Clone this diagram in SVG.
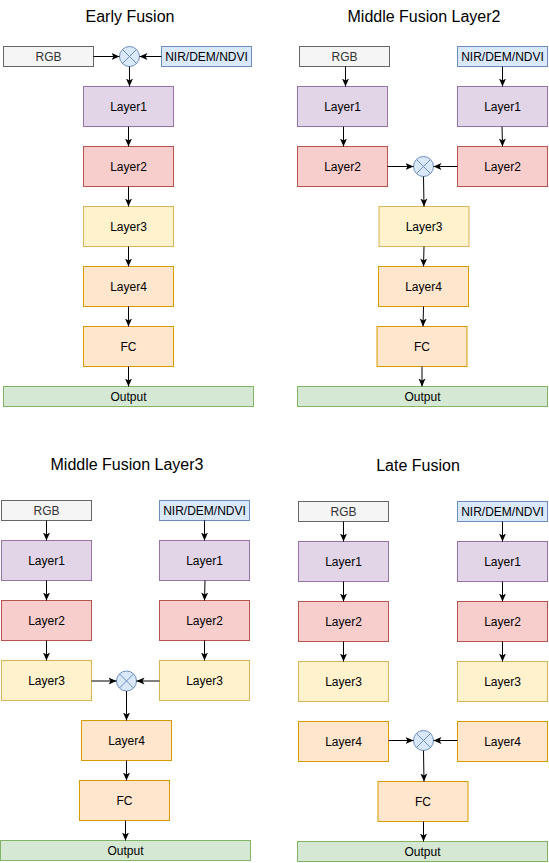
<svg xmlns="http://www.w3.org/2000/svg" width="549" height="863" viewBox="0 0 549 863">
<style>
text{font-family:"Liberation Sans",Arial,sans-serif;text-anchor:middle;dominant-baseline:central;font-size:12px;fill:#000}
.title{font-size:16px;dominant-baseline:auto}
.gray{fill:#f5f5f5;stroke:#666666}
.gray+text,.gt{fill:#333333}
.blue{fill:#dae8fc;stroke:#6c8ebf}
.purple{fill:#e1d5e7;stroke:#9673a6}
.red{fill:#f8cecc;stroke:#b85450}
.yellow{fill:#fff2cc;stroke:#d6b656}
.orange{fill:#ffe6cc;stroke:#d79b00}
.green{fill:#d5e8d4;stroke:#82b366}
.op circle{fill:#dae8fc;stroke:#6c8ebf}
.op path{stroke:#6c8ebf;fill:none}
#connectors line{stroke:#000;stroke-width:1;marker-end:url(#arr)}
</style>
<defs>
<marker id="arr" markerUnits="userSpaceOnUse" markerWidth="10" markerHeight="10" viewBox="0 0 10 10" refX="8" refY="5" orient="auto">
<path d="M0,1.5 L8,5 L0,8.5 L2,5 z" fill="#000"/>
</marker>
</defs>
<rect width="549" height="863" fill="#fff"/>

<text class="title" x="130" y="22">Early Fusion</text>
<text class="title" x="424" y="22">Middle Fusion Layer2</text>
<text class="title" x="127" y="470">Middle Fusion Layer3</text>
<text class="title" x="418" y="471">Late Fusion</text>

<!-- Panel 1: Early Fusion -->
<g id="ef-rgb"><rect class="gray" x="3.5" y="46.5" width="90" height="20"/><text class="gt" x="48.5" y="56.5">RGB</text></g>
<g id="ef-nir"><rect class="blue" x="161.5" y="46.5" width="90" height="20"/><text x="206.5" y="56.5">NIR/DEM/NDVI</text></g>
<g id="ef-fuse" class="op"><circle cx="129.5" cy="56.5" r="10"/><path d="M122.4,49.4 L136.6,63.6 M136.6,49.4 L122.4,63.6"/></g>
<g id="ef-l1"><rect class="purple" x="83.5" y="86.5" width="90" height="40"/><text x="128.5" y="106.5">Layer1</text></g>
<g id="ef-l2"><rect class="red" x="83.5" y="146.5" width="90" height="40"/><text x="128.5" y="166.5">Layer2</text></g>
<g id="ef-l3"><rect class="yellow" x="83.5" y="206.5" width="90" height="40"/><text x="128.5" y="226.5">Layer3</text></g>
<g id="ef-l4"><rect class="orange" x="83.5" y="266.5" width="90" height="40"/><text x="128.5" y="286.5">Layer4</text></g>
<g id="ef-fc"><rect class="orange" x="83.5" y="326.5" width="90" height="40"/><text x="128.5" y="346.5">FC</text></g>
<g id="ef-out"><rect class="green" x="3.5" y="386.5" width="250" height="20"/><text x="128.5" y="396.5">Output</text></g>

<!-- Panel 2: Middle Fusion Layer2 -->
<g id="m2-rgb"><rect class="gray" x="299.5" y="46.5" width="90" height="20"/><text class="gt" x="344.5" y="56.5">RGB</text></g>
<g id="m2-nir"><rect class="blue" x="457.5" y="46.5" width="90" height="20"/><text x="502.5" y="56.5">NIR/DEM/NDVI</text></g>
<g id="m2-l1a"><rect class="purple" x="297.5" y="86.5" width="90" height="40"/><text x="342.5" y="106.5">Layer1</text></g>
<g id="m2-l1b"><rect class="purple" x="457.5" y="86.5" width="90" height="40"/><text x="502.5" y="106.5">Layer1</text></g>
<g id="m2-l2a"><rect class="red" x="297.5" y="146.5" width="90" height="40"/><text x="342.5" y="166.5">Layer2</text></g>
<g id="m2-l2b"><rect class="red" x="457.5" y="146.5" width="90" height="40"/><text x="502.5" y="166.5">Layer2</text></g>
<g id="m2-fuse" class="op"><circle cx="423.5" cy="166.5" r="10"/><path d="M416.4,159.4 L430.6,173.6 M430.6,159.4 L416.4,173.6"/></g>
<g id="m2-l3"><rect class="yellow" x="379" y="206.5" width="90" height="40"/><text x="424" y="226.5">Layer3</text></g>
<g id="m2-l4"><rect class="orange" x="378.5" y="266.5" width="90" height="40"/><text x="423.5" y="286.5">Layer4</text></g>
<g id="m2-fc"><rect class="orange" x="377" y="326.5" width="90" height="40"/><text x="422" y="346.5">FC</text></g>
<g id="m2-out"><rect class="green" x="297.5" y="386.5" width="250" height="20"/><text x="422.5" y="396.5">Output</text></g>

<!-- Panel 3: Middle Fusion Layer3 -->
<g id="m3-rgb"><rect class="gray" x="1.5" y="500.5" width="90" height="20"/><text class="gt" x="46.5" y="510.5">RGB</text></g>
<g id="m3-nir"><rect class="blue" x="159.5" y="500.5" width="90" height="20"/><text x="204.5" y="510.5">NIR/DEM/NDVI</text></g>
<g id="m3-l1a"><rect class="purple" x="1.5" y="540.5" width="90" height="40"/><text x="46.5" y="560.5">Layer1</text></g>
<g id="m3-l1b"><rect class="purple" x="159.5" y="540.5" width="90" height="40"/><text x="204.5" y="560.5">Layer1</text></g>
<g id="m3-l2a"><rect class="red" x="1.5" y="600.5" width="90" height="40"/><text x="46.5" y="620.5">Layer2</text></g>
<g id="m3-l2b"><rect class="red" x="159.5" y="600.5" width="90" height="40"/><text x="204.5" y="620.5">Layer2</text></g>
<g id="m3-l3a"><rect class="yellow" x="1.5" y="660.5" width="90" height="40"/><text x="46.5" y="680.5">Layer3</text></g>
<g id="m3-l3b"><rect class="yellow" x="159.5" y="660.5" width="90" height="40"/><text x="204.5" y="680.5">Layer3</text></g>
<g id="m3-fuse" class="op"><circle cx="126.5" cy="681" r="10"/><path d="M119.4,673.9 L133.6,688.1 M133.6,673.9 L119.4,688.1"/></g>
<g id="m3-l4"><rect class="orange" x="81.5" y="720.5" width="90" height="40"/><text x="126.5" y="740.5">Layer4</text></g>
<g id="m3-fc"><rect class="orange" x="79.5" y="780.5" width="90" height="40"/><text x="124.5" y="800.5">FC</text></g>
<g id="m3-out"><rect class="green" x="0.5" y="840.5" width="250" height="20"/><text x="125.5" y="850.5">Output</text></g>

<!-- Panel 4: Late Fusion -->
<g id="lf-rgb"><rect class="gray" x="298.5" y="501.5" width="90" height="20"/><text class="gt" x="343.5" y="511.5">RGB</text></g>
<g id="lf-nir"><rect class="blue" x="457.5" y="501.5" width="90" height="20"/><text x="502.5" y="511.5">NIR/DEM/NDVI</text></g>
<g id="lf-l1a"><rect class="purple" x="298.5" y="541.5" width="90" height="40"/><text x="343.5" y="561.5">Layer1</text></g>
<g id="lf-l1b"><rect class="purple" x="457.5" y="541.5" width="90" height="40"/><text x="502.5" y="561.5">Layer1</text></g>
<g id="lf-l2a"><rect class="red" x="298.5" y="601.5" width="90" height="40"/><text x="343.5" y="621.5">Layer2</text></g>
<g id="lf-l2b"><rect class="red" x="457.5" y="601.5" width="90" height="40"/><text x="502.5" y="621.5">Layer2</text></g>
<g id="lf-l3a"><rect class="yellow" x="298.5" y="661.5" width="90" height="40"/><text x="343.5" y="681.5">Layer3</text></g>
<g id="lf-l3b"><rect class="yellow" x="457.5" y="661.5" width="90" height="40"/><text x="502.5" y="681.5">Layer3</text></g>
<g id="lf-l4a"><rect class="orange" x="298.5" y="721.5" width="90" height="40"/><text x="343.5" y="741.5">Layer4</text></g>
<g id="lf-l4b"><rect class="orange" x="457.5" y="721.5" width="90" height="40"/><text x="502.5" y="741.5">Layer4</text></g>
<g id="lf-fuse" class="op"><circle cx="423.5" cy="740.5" r="10"/><path d="M416.4,733.4 L430.6,747.6 M430.6,733.4 L416.4,747.6"/></g>
<g id="lf-fc"><rect class="orange" x="378" y="781.5" width="90" height="40"/><text x="423" y="801.5">FC</text></g>
<g id="lf-out"><rect class="green" x="297.5" y="841.5" width="250" height="20"/><text x="422.5" y="851.5">Output</text></g>

<g id="connectors">
<!-- Panel 1 -->
<line x1="93.5" y1="56.5" x2="119.5" y2="56.5"/>
<line x1="161.5" y1="56.5" x2="139.5" y2="56.5"/>
<line x1="129.5" y1="66.5" x2="129.5" y2="86.5"/>
<line x1="128.5" y1="126.5" x2="128.5" y2="146.5"/>
<line x1="128.5" y1="186.5" x2="128.5" y2="206.5"/>
<line x1="128.5" y1="246.5" x2="128.5" y2="266.5"/>
<line x1="128.5" y1="306.5" x2="128.5" y2="326.5"/>
<line x1="128.5" y1="366.5" x2="128.5" y2="386.5"/>
<!-- Panel 2 -->
<line x1="345.5" y1="66.5" x2="345.5" y2="86.5"/>
<line x1="502.5" y1="66.5" x2="502.5" y2="86.5"/>
<line x1="343.5" y1="126.5" x2="343.5" y2="146.5"/>
<line x1="502" y1="126.5" x2="502.5" y2="146.5"/>
<line x1="387.5" y1="166.5" x2="413.5" y2="166.5"/>
<line x1="457.5" y1="166.5" x2="433.5" y2="166.5"/>
<line x1="423.5" y1="176.5" x2="424" y2="206.5"/>
<line x1="424" y1="246.5" x2="423.5" y2="266.5"/>
<line x1="423.5" y1="306.5" x2="423" y2="326.5"/>
<line x1="422" y1="366.5" x2="422" y2="386.5"/>
<!-- Panel 3 -->
<line x1="46.5" y1="520.5" x2="46.5" y2="540.5"/>
<line x1="204.5" y1="520.5" x2="204.5" y2="540.5"/>
<line x1="46.5" y1="580.5" x2="46.5" y2="600.5"/>
<line x1="205" y1="580.5" x2="204.5" y2="600.5"/>
<line x1="46.5" y1="640.5" x2="46.5" y2="660.5"/>
<line x1="204.5" y1="640.5" x2="204.5" y2="660.5"/>
<line x1="91.5" y1="681" x2="116.5" y2="681"/>
<line x1="159.5" y1="681" x2="136.5" y2="681"/>
<line x1="126.5" y1="691" x2="126.5" y2="720.5"/>
<line x1="126.5" y1="760.5" x2="126.5" y2="780.5"/>
<line x1="125.5" y1="820.5" x2="125.5" y2="840.5"/>
<!-- Panel 4 -->
<line x1="343.5" y1="521.5" x2="343.5" y2="541.5"/>
<line x1="502.5" y1="521.5" x2="502.5" y2="541.5"/>
<line x1="343.5" y1="581.5" x2="343.5" y2="601.5"/>
<line x1="502.5" y1="581.5" x2="502.5" y2="601.5"/>
<line x1="343.5" y1="641.5" x2="343.5" y2="661.5"/>
<line x1="502.5" y1="641.5" x2="502.5" y2="661.5"/>
<line x1="388.5" y1="740.5" x2="413.5" y2="740.5"/>
<line x1="457.5" y1="740.5" x2="433.5" y2="740.5"/>
<line x1="423.5" y1="750.5" x2="424" y2="781.5"/>
<line x1="423.5" y1="821.5" x2="423.5" y2="841.5"/>
</g>
</svg>
